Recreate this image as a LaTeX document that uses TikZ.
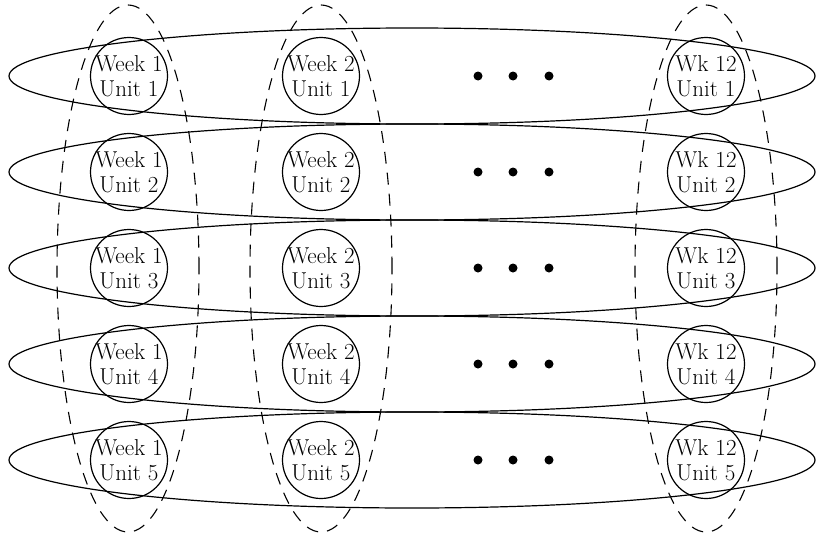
\documentclass[tikz,border=0pt]{standalone}
\begin{document}
\begin{tikzpicture}[x=1pt,y=-1pt,
  unitcircle/.style={circle,draw,line width=1.2pt,minimum size=77pt,inner sep=0pt,
    align=center,font=\fontsize{23}{25}\selectfont},
  rowring/.style={draw,line width=1.2pt},
  colring/.style={draw,line width=1.1pt,dash pattern=on 12pt off 9pt},
  dotmark/.style={circle,fill=black,inner sep=0pt,minimum width=8pt,minimum height=9pt}]
\useasboundingbox (0,0) rectangle (816,538);
% units per week
\foreach \r in {1,...,5}{
  \pgfmathsetmacro{\yy}{76+96*(\r-1)}
  \node[unitcircle] (w1u\r) at (129,\yy) {\makebox[0pt]{Week 1}\\\makebox[0pt]{Unit \r}};
  \node[unitcircle] (w2u\r) at (321,\yy) {\makebox[0pt]{Week 2}\\\makebox[0pt]{Unit \r}};
  \node[unitcircle] (w12u\r) at (706,\yy) {\makebox[0pt]{Wk 12}\\\makebox[0pt]{Unit \r}};
  \node[dotmark] (da\r) at (478,\yy) {};
  \node[dotmark] (db\r) at (513,\yy) {};
  \node[dotmark] (dc\r) at (549,\yy) {};
  % one unit across all weeks
  \draw[rowring] (412,\yy) ellipse [x radius=403pt, y radius=48pt];
}
% one week across all units
\draw[colring] (128,268.5) ellipse [x radius=71pt, y radius=263.5pt];
\draw[colring] (321,268.5) ellipse [x radius=71pt, y radius=263.5pt];
\draw[colring] (706,268.5) ellipse [x radius=71pt, y radius=263.5pt];
\end{tikzpicture}
\end{document}
